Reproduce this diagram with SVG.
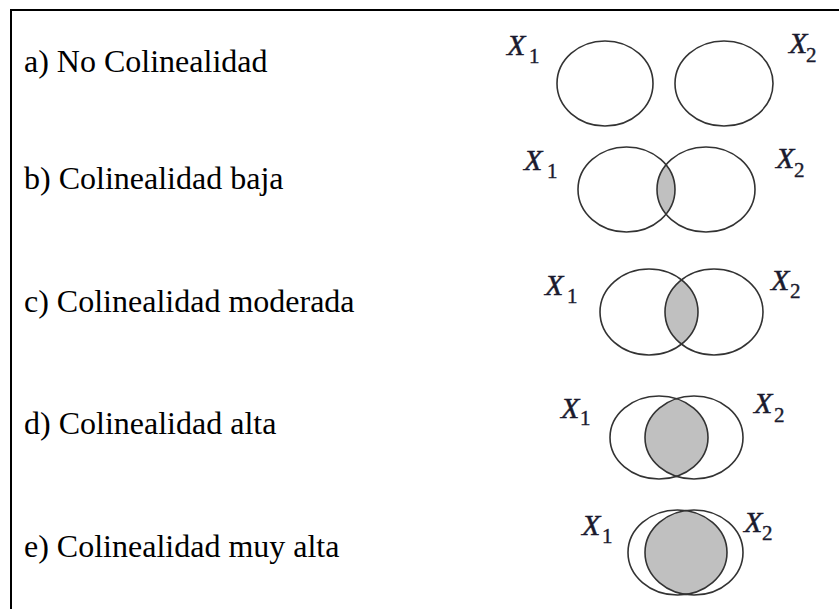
<svg xmlns="http://www.w3.org/2000/svg" width="839" height="609" viewBox="0 0 839 609">
<style>
.lbl{font-family:"Liberation Serif","Times New Roman",serif;font-size:32px;fill:#000}
.x{font-family:"Liberation Serif","Times New Roman",serif;font-style:italic;font-size:30px;fill:#1a1a2e;stroke:#1a1a2e;stroke-width:0.5}
.sub{font-family:"Liberation Serif","Times New Roman",serif;font-size:21px;fill:#1a1a2e;stroke:#1a1a2e;stroke-width:0.4}
.e{fill:none;stroke:#333;stroke-width:1.6}
.g{fill:#c0c0c0;stroke:none}
.frame{stroke:#000;stroke-width:2;fill:none}
</style>
<defs>
<clipPath id="cb"><ellipse cx="626.5" cy="189.5" rx="48.5" ry="42.5"/></clipPath>
<clipPath id="cc"><ellipse cx="649" cy="312" rx="49" ry="43"/></clipPath>
<clipPath id="cd"><ellipse cx="659" cy="437.5" rx="49" ry="41.5"/></clipPath>
<clipPath id="ce"><ellipse cx="677.5" cy="552.5" rx="49.5" ry="42.5"/></clipPath>
</defs>
<rect width="839" height="609" fill="#fff"/>
<g id="frame"><polyline class="frame" points="839,10 11,10 11,609"/></g>
<g id="row-a">
<text class="lbl" x="24" y="72" font-family="Liberation Serif, serif">a) No Colinealidad</text>
<ellipse class="e" cx="605" cy="83.5" rx="48" ry="42.5"/>
<ellipse class="e" cx="724" cy="83.5" rx="49" ry="42.5"/>
<text class="x" x="507" y="55">X</text><text class="sub" x="529" y="63">1</text>
<text class="x" x="789" y="53">X</text><text class="sub" x="806" y="62">2</text>
</g>
<g id="row-b">
<text class="lbl" x="24" y="189">b) Colinealidad baja</text>
<ellipse class="g" cx="706" cy="189.5" rx="49" ry="42.5" clip-path="url(#cb)"/>
<ellipse class="e" cx="626.5" cy="189.5" rx="48.5" ry="42.5"/>
<ellipse class="e" cx="706" cy="189.5" rx="49" ry="42.5"/>
<text class="x" x="524" y="170">X</text><text class="sub" x="547" y="178">1</text>
<text class="x" x="776" y="168">X</text><text class="sub" x="794" y="177">2</text>
</g>
<g id="row-c">
<text class="lbl" x="24" y="312">c) Colinealidad moderada</text>
<ellipse class="g" cx="714" cy="312" rx="49" ry="43" clip-path="url(#cc)"/>
<ellipse class="e" cx="649" cy="312" rx="49" ry="43"/>
<ellipse class="e" cx="714" cy="312" rx="49" ry="43"/>
<text class="x" x="545" y="295">X</text><text class="sub" x="567" y="303">1</text>
<text class="x" x="771" y="290">X</text><text class="sub" x="790" y="298">2</text>
</g>
<g id="row-d">
<text class="lbl" x="24" y="434">d) Colinealidad alta</text>
<ellipse class="g" cx="694" cy="437.5" rx="49" ry="41.5" clip-path="url(#cd)"/>
<ellipse class="e" cx="659" cy="437.5" rx="49" ry="41.5"/>
<ellipse class="e" cx="694" cy="437.5" rx="49" ry="41.5"/>
<text class="x" x="561" y="418">X</text><text class="sub" x="580" y="425">1</text>
<text class="x" x="754" y="413">X</text><text class="sub" x="774" y="422">2</text>
</g>
<g id="row-e">
<text class="lbl" x="24" y="557">e) Colinealidad muy alta</text>
<ellipse class="g" cx="694" cy="552.5" rx="49" ry="42.5" clip-path="url(#ce)"/>
<ellipse class="e" cx="677.5" cy="552.5" rx="49.5" ry="42.5"/>
<ellipse class="e" cx="694" cy="552.5" rx="49" ry="42.5"/>
<text class="x" x="582" y="535">X</text><text class="sub" x="602" y="543">1</text>
<text class="x" x="744" y="532">X</text><text class="sub" x="762" y="540">2</text>
</g>
<g id="connectors"/>
</svg>
